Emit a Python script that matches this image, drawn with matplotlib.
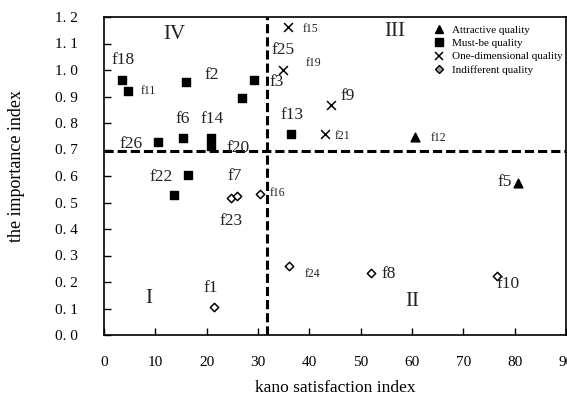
import matplotlib
matplotlib.use("Agg")
import matplotlib.pyplot as plt
from matplotlib.lines import Line2D

# Kano categories (satisfaction index, importance index)
attractive_names = ["f12", "f5"]
attractive_x = [60.6, 80.7]
attractive_y = [0.748, 0.575]

mustbe_names = ["f18", "f11", "f2", "f3", "f25", "f13", "f26", "f6", "f14", "f20", "f22", "f17"]
mustbe_x = [3.6, 4.7, 16.0, 29.2, 26.8, 36.5, 10.6, 15.3, 20.9, 20.9, 16.3, 13.6]
mustbe_y = [0.962, 0.921, 0.955, 0.962, 0.894, 0.758, 0.728, 0.745, 0.742, 0.714, 0.603, 0.528]

onedim_names = ["f15", "f19", "f9", "f21"]
onedim_x = [35.8, 34.8, 44.2, 43.1]
onedim_y = [1.161, 1.0, 0.867, 0.758]

indiff_names = ["f23", "f7", "f16", "f24", "f1", "f8", "f10"]
indiff_x = [24.7, 25.9, 30.3, 36.1, 21.4, 52.0, 76.5]
indiff_y = [0.516, 0.526, 0.531, 0.262, 0.106, 0.234, 0.223]

x_mean = 31.7
y_mean = 0.695

# label offsets in pixels (dx, dy), small = condensed small font
label_offsets = {
    "f18": (1, 20), "f11": (20, 0), "f2": (26, 7), "f3": (23, -2), "f25": (41, 48),
    "f13": (1, 19), "f26": (-27, -2), "f6": (0, 19), "f14": (1, 19), "f20": (27, -2),
    "f22": (-27, -2), "f15": (23, -2), "f19": (31, 7), "f9": (17, 9), "f21": (17, -2),
    "f12": (23, -1), "f5": (-14, 1), "f23": (0, -23), "f7": (-2, 20), "f16": (18, 1),
    "f24": (23, -8), "f1": (-3, 19), "f8": (18, -1), "f10": (11, -8),
}
small_labels = {"f11", "f15", "f19", "f21", "f12", "f16", "f24"}

serif = ["Liberation Serif", "DejaVu Serif"]
plt.rcParams["font.family"] = serif

fig = plt.figure(figsize=(5.67, 3.99), dpi=100)
ax = fig.add_axes([104 / 567, (399 - 335) / 399, (566 - 104) / 567, (335 - 17) / 399])

ax.scatter(attractive_x, attractive_y, marker="^", s=40, color="black", zorder=3)
ax.scatter(mustbe_x, mustbe_y, marker="s", s=32, color="black", zorder=3)
ax.scatter(onedim_x, onedim_y, marker="x", s=40, color="black", linewidths=1.1, zorder=3)
ax.scatter(indiff_x, indiff_y, marker="D", s=18, facecolor="white", edgecolor="black",
           linewidths=1.1, zorder=3)

ax.axhline(y_mean, color="black", lw=2.2, ls=(0, (3, 1.3)), zorder=2)
ax.axvline(x_mean, color="black", lw=2.2, ls=(0, (3, 1.3)), zorder=2)

groups = [
    (attractive_names, attractive_x, attractive_y),
    (mustbe_names, mustbe_x, mustbe_y),
    (onedim_names, onedim_x, onedim_y),
    (indiff_names, indiff_x, indiff_y),
]
for names, xs, ys in groups:
    for n, x, y in zip(names, xs, ys):
        if n not in label_offsets:
            continue
        dx, dy = label_offsets[n]
        size = 8.5 if n in small_labels else 12.5
        ax.annotate(n, (x, y), xytext=(dx, dy), textcoords="offset pixels",
                    ha="center", va="center", fontsize=size, color="#222222")

# quadrant numerals
for txt, qx, qy in [("IV", 13.7, 1.135), ("III", 56.7, 1.147), ("I", 8.8, 0.138), ("II", 60.0, 0.126)]:
    ax.text(qx, qy, txt, ha="center", va="center", fontsize=15, color="#222222")

ax.set_xlim(0, 90)
ax.set_ylim(0, 1.2)
ax.set_xticks(range(0, 91, 10))
ax.set_yticks([i / 10 for i in range(13)])
ax.set_yticklabels([f"{i / 10:.1f}".replace(".", ". ") for i in range(13)])
ax.tick_params(direction="in", length=5, width=1, labelsize=11)
ax.tick_params(axis="y", pad=19)
ax.tick_params(axis="x", pad=15)
for sp in ax.spines.values():
    sp.set_linewidth(1.2)

ax.set_xlabel("kano satisfaction index", fontsize=12.5, labelpad=8)
fig.text(17 / 567, 1 - 166 / 399, "the importance index", rotation=90,
         ha="center", va="center", fontsize=13)

handles = [
    Line2D([], [], marker="^", color="black", ls="", markersize=6),
    Line2D([], [], marker="s", color="black", ls="", markersize=5.5),
    Line2D([], [], marker="x", color="black", ls="", markersize=6, markeredgewidth=1.1),
    Line2D([], [], marker="D", markerfacecolor="#a0a0a0", markeredgecolor="black", ls="",
           markersize=4.5),
]
labels = ["Attractive quality", "Must-be quality", "One-dimensional quality", "Indifferent quality"]
ax.legend(handles, labels, loc="upper left", bbox_to_anchor=(0.69, 0.998), frameon=False,
          fontsize=8, handletextpad=0.4, labelspacing=0.3, handlelength=1.5, borderpad=0.2)

fig.savefig("out.png", dpi=100)
